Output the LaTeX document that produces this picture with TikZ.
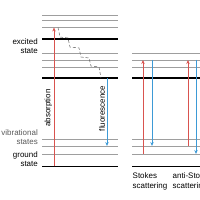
\documentclass[tikz,border=0pt]{standalone}
\usepackage{fontspec}
\setmainfont{Liberation Sans}
\usetikzlibrary{positioning, arrows.meta, calc}
\definecolor{uprd}{HTML}{D9534F}
\definecolor{dnbl}{HTML}{3D9AD6}
\tikzset{
  level/.style={black!38, line width=0.9pt},
  state/.style={black, line width=1.4pt},
  uparr/.style={uprd, line width=0.9pt, -{Stealth[length=4pt,width=3.4pt]}},
  dnarr/.style={dnbl, line width=0.9pt, -{Stealth[length=4pt,width=3.4pt]}},
  relax/.style={black!60, line width=0.5pt, densely dashed},
  lbl/.style={align=right, anchor=east, inner sep=0pt}
}

\begin{document}
\begin{tikzpicture}[x=1bp, y=1bp, font=\fontsize{8}{9.2}\selectfont]
  \useasboundingbox (0,0) rectangle (200,200);
  % energy levels, left
  \foreach \y in {185,179.5,172.5,146.5,140,132.5,61,54,46} { \draw[level] (42,\y) -- (118,\y); }
  \foreach \y in {161,122,33.5} { \draw[state] (42,\y) -- (118,\y); }
  % energy levels, right
  \foreach \y in {146.5,140,132.5,61,54,46} { \draw[level] (132,\y) -- (200,\y); }
  \foreach \y in {122,33.5} { \draw[state] (132,\y) -- (200,\y); }

  \node[lbl] (exc) at (38,153.5) {excited\\state};
  \node[lbl, text=black!65] (vib) at (38,62.5) {vibrational\\states};
  \node[lbl] (gnd) at (38,41) {ground\\state};

  \coordinate (abs0) at (54,33.5);  \coordinate (abs1) at (54,172.5);
  \coordinate (fl0) at (107,122);   \coordinate (fl1) at (107,54);
  \draw[uparr] (abs0) -- (abs1) node[pos=0.42, rotate=90, anchor=south, text=black, inner sep=1.5pt] (absl) {absorption};
  \draw[dnarr] (fl0) -- (fl1) node[pos=0.45, rotate=90, anchor=south, text=black, inner sep=1.5pt] (fll) {fluorescence};
  \draw[relax] (58,172.5) -- (60,163) -- (68,162) -- (70,153) -- (79,152) -- (81,143)
    -- (89,142) -- (91,134) -- (99,133) -- (101,122);

  % Stokes
  \coordinate (s0) at (143,46);  \coordinate (s1) at (143,140);
  \coordinate (s2) at (152,140); \coordinate (s3) at (152,54);
  \draw[uparr] (s0) -- (s1);
  \draw[dnarr] (s2) -- (s3);
  % anti-Stokes
  \coordinate (a0) at (188,54);  \coordinate (a1) at (188,140);
  \coordinate (a2) at (196,140); \coordinate (a3) at (196,46);
  \draw[uparr] (a0) -- (a1);
  \draw[dnarr] (a2) -- (a3);

  \node[align=left, anchor=north west, inner sep=0pt] (stk) at (132.5,27) {Stokes\\scattering};
  \node[align=left, anchor=north west, inner sep=0pt] (ast) at (172.5,27) {anti-Stokes\\scattering};
\end{tikzpicture}
\end{document}
